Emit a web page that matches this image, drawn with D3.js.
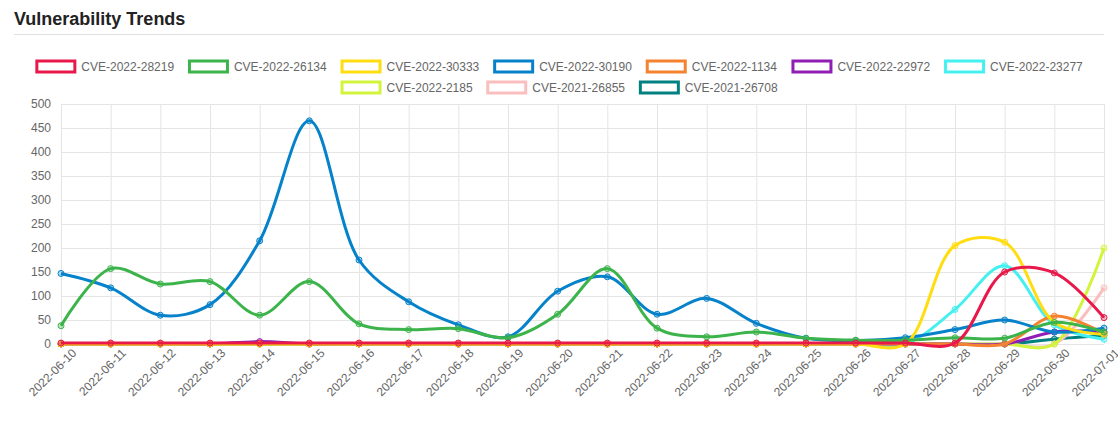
<!DOCTYPE html>
<html><head><meta charset="utf-8">
<script src="https://cdn.jsdelivr.net/npm/d3@7"></script>
<style>
body{margin:0;background:#fff;font-family:"Liberation Sans",Arial,sans-serif;}
</style></head>
<body><svg id="c" width="1118" height="428"></svg>
<script>
var dates = ["2022-06-10","2022-06-11","2022-06-12","2022-06-13","2022-06-14","2022-06-15","2022-06-16","2022-06-17","2022-06-18","2022-06-19","2022-06-20","2022-06-21","2022-06-22","2022-06-23","2022-06-24","2022-06-25","2022-06-26","2022-06-27","2022-06-28","2022-06-29","2022-06-30","2022-07-01"];
var names = ["CVE-2022-28219","CVE-2022-26134","CVE-2022-30333","CVE-2022-30190","CVE-2022-1134","CVE-2022-22972","CVE-2022-23277","CVE-2022-2185","CVE-2021-26855","CVE-2021-26708"];
var colors = ["#e8194a","#3cb44b","#ffdd11","#0582ca","#f58231","#911eb4","#46f0f0","#d2f53c","#fabebe","#008080"];
var cve28219 = [2,2,2,2,2,2,2,2,2,2,2,2,2,2,2,2,2,2,2,150,148,55];
var cve26134 = [38,157,125,130,60,130,42,30,32,13,62,157,33,15,25,12,8,8,13,12,45,25];
var cve30333 = [0,0,0,0,0,0,0,0,0,0,0,0,0,0,0,0,0,0,205,212,45,20];
var cve30190 = [147,117,60,82,215,465,175,88,40,15,110,140,62,95,43,12,7,13,30,50,25,33];
var cve1134 = [0,0,0,0,0,0,0,0,0,0,0,0,0,0,0,0,0,0,0,0,58,22];
var cve22972 = [0,0,0,0,5,0,0,0,0,0,0,0,0,0,0,0,0,0,0,0,25,25];
var cve23277 = [0,0,0,0,0,0,0,0,0,0,0,0,0,0,0,0,0,0,72,163,40,10];
var cve2185 = [0,0,0,0,0,0,0,0,0,0,0,0,0,0,0,0,0,0,0,0,0,200];
var cve26855 = [0,0,0,0,0,0,0,0,0,0,0,0,0,0,0,0,0,0,0,0,0,117];
var cve26708 = [0,0,0,0,0,0,0,0,0,0,0,0,0,0,0,0,0,0,0,0,10,18];
var yTicks = [0,50,100,150,200,250,300,350,400,450,500];

var series = [cve28219,cve26134,cve30333,cve30190,cve1134,cve22972,cve23277,cve2185,cve26855,cve26708];
var svg = d3.select("#c");

svg.append("text").attr("x",14).attr("y",25).attr("font-size",18).attr("font-weight","bold").attr("fill","#222").text("Vulnerability Trends");
svg.append("line").attr("x1",14).attr("x2",1104).attr("y1",34.5).attr("y2",34.5).attr("stroke","#e0e0e0");

// legend
var rows = [[0,1,2,3,4,5,6],[7,8,9]];
rows.forEach(function (row, r) {
    var items = row.map(function (i) {
        return { i: i, w: 40 + 6 + names[i].length * 6.9 + 10 };
    });
    var total = d3.sum(items, function (d) { return d.w; }) - 10;
    var x = (1118 - total) / 2 + 2;
    items.forEach(function (d) {
        var g = svg.append("g").attr("transform", "translate(" + x + "," + (66 + r * 21) + ")");
        g.append("rect").attr("x",1.5).attr("y",-5).attr("width",38).attr("height",11).attr("fill","#fff").attr("stroke",colors[d.i]).attr("stroke-width",3);
        g.append("text").attr("x",46).attr("y",5).attr("font-size",12).attr("fill","#666").text(names[d.i]);
        x += d.w;
    });
});

var x = d3.scalePoint().domain(dates).range([61, 1104]);
var y = d3.scaleLinear().domain([0, 500]).range([344, 104]);

svg.append("g").attr("transform","translate(0,344)")
    .call(d3.axisBottom(x).tickSize(-240).tickPadding(8))
    .call(function (g) {
        g.select(".domain").remove();
        g.selectAll("line").attr("stroke","#e5e5e5");
        g.selectAll("text").attr("font-size",12).attr("fill","#666").attr("font-family","Liberation Sans, Arial")
            .attr("text-anchor","end").attr("transform","translate(4,-2) rotate(-45)");
    });
svg.append("g").attr("transform","translate(61,0)")
    .call(d3.axisLeft(y).tickValues(yTicks).tickSize(-1043).tickPadding(10))
    .call(function (g) {
        g.select(".domain").remove();
        g.selectAll("line").attr("stroke","#e5e5e5");
        g.selectAll("text").attr("font-size",12).attr("fill","#666").attr("font-family","Liberation Sans, Arial");
    });

var line = d3.line()
    .x(function (d, i) { return x(dates[i]); })
    .y(function (d) { return y(d); })
    .curve(d3.curveCatmullRom.alpha(0.5));

for (var s = series.length - 1; s >= 0; s--) {
    svg.append("path").attr("d", line(series[s])).attr("fill","none").attr("stroke",colors[s]).attr("stroke-width",3);
    svg.selectAll(null).data(series[s]).enter().append("circle")
        .attr("cx", function (d, i) { return x(dates[i]); })
        .attr("cy", function (d) { return y(d); })
        .attr("r", 3)
        .attr("fill", d3.color(colors[s]).copy({opacity: 0.3}))
        .attr("stroke", colors[s]).attr("stroke-width",1);
}
</script></body></html>
